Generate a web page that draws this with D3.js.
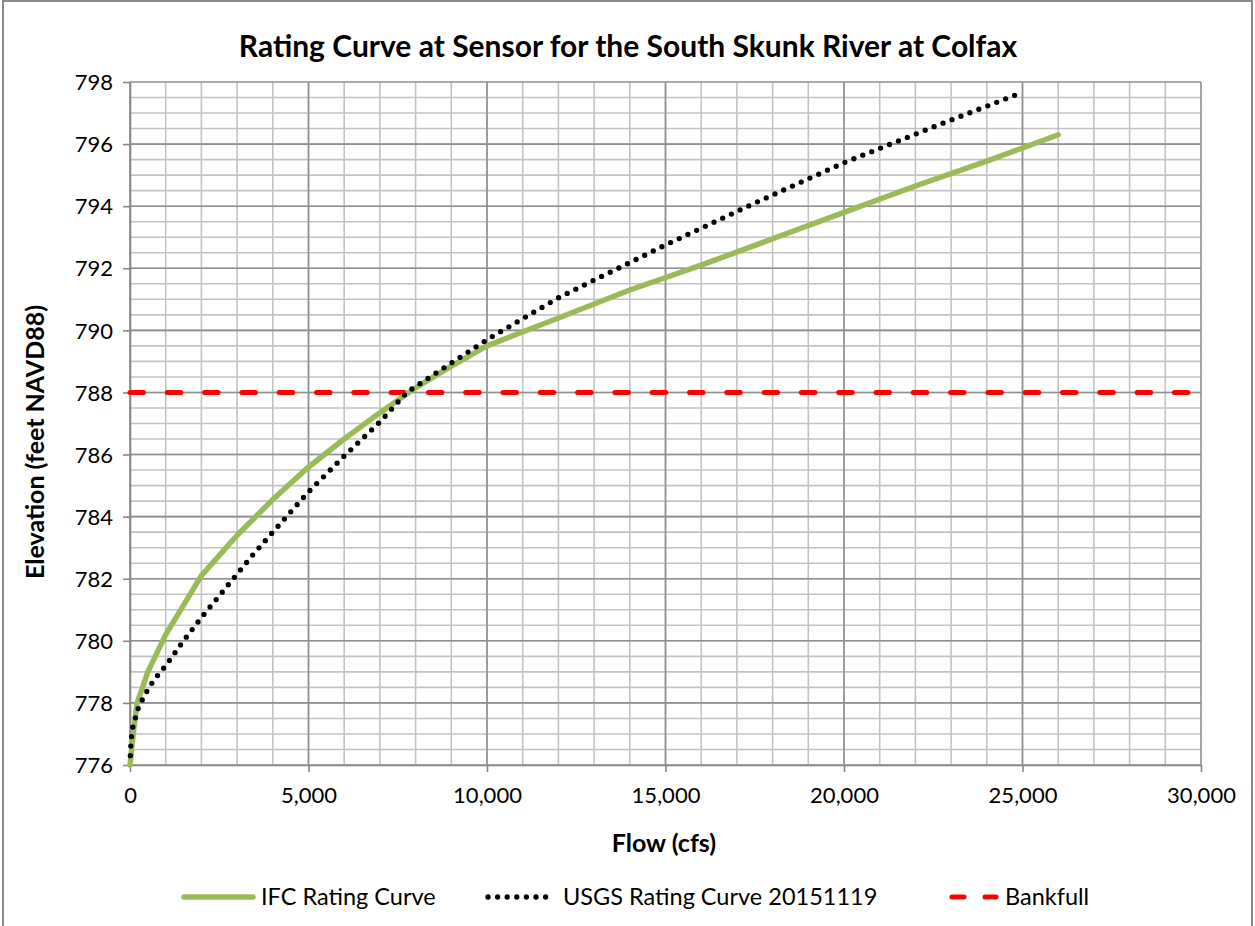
<!DOCTYPE html>
<html>
<head>
<meta charset="utf-8">
<script src="https://cdn.jsdelivr.net/npm/d3@7"></script>
<style>
  body { margin: 0; background: #fff; }
  text { font-family: Lato, "Open Sans", sans-serif; fill: #000; }
</style>
</head>
<body>
<svg id="chart" width="1255" height="926"></svg>
<script>
// IFC rating curve (flow cfs, elevation ft)
var ifcFlow = [0, 100, 200, 500, 1000, 2000, 3000, 4000, 5000, 6000, 7000, 8000, 9000, 10000, 12000, 14000, 16000, 18000, 20000, 22000, 24000, 26000];
var ifcElev = [776.0, 777.1, 778.0, 779.0, 780.2, 782.1, 783.4, 784.55, 785.6, 786.5, 787.35, 788.15, 788.85, 789.5, 790.4, 791.3, 792.1, 792.95, 793.8, 794.65, 795.45, 796.3];

// USGS rating curve 20151119
var usgsFlow = [10, 30, 75, 160, 250, 400, 560, 750, 1000, 1500, 2000, 2500, 3000, 3500, 4000, 4500, 5000, 6000, 7000, 7750, 9000, 10000, 12000, 15000, 17500, 20000, 22500, 25000];
var usgsElev = [776.3, 776.8, 777.2, 777.55, 777.9, 778.22, 778.55, 778.85, 779.2, 780.0, 780.75, 781.45, 782.15, 782.85, 783.5, 784.15, 784.8, 785.95, 787.05, 788.0, 788.95, 789.7, 791.05, 792.75, 794.1, 795.4, 796.55, 797.67];

var bankfull = 788;

var xTicks = [0, 5000, 10000, 15000, 20000, 25000, 30000];
var yTicks = [776, 778, 780, 782, 784, 786, 788, 790, 792, 794, 796, 798];

var title = "Rating Curve at Sensor for the South Skunk River at Colfax";
var seriesNames = ["IFC Rating Curve", "USGS Rating Curve 20151119", "Bankfull"];

var svg = d3.select("#chart");

// outer chart border
svg.append("rect")
    .attr("x", 3).attr("y", 1)
    .attr("width", 1249).attr("height", 930)
    .attr("fill", "none")
    .attr("stroke", "#8a8a8a")
    .attr("stroke-width", 2);

var x = d3.scaleLinear().domain([0, 30000]).range([130, 1201]);
var y = d3.scaleLinear().domain([776, 798]).range([765, 82]);

// minor gridlines
var g = svg.append("g");
g.selectAll("line.vminor")
    .data(d3.range(1000, 30000, 1000))
    .enter().append("line")
    .attr("x1", d => x(d)).attr("x2", d => x(d))
    .attr("y1", y(776)).attr("y2", y(798))
    .attr("stroke", "#c3c3c3").attr("stroke-width", 1.6);
g.selectAll("line.hminor")
    .data(d3.range(776.5, 798, 0.5))
    .enter().append("line")
    .attr("x1", x(0)).attr("x2", x(30000))
    .attr("y1", d => y(d)).attr("y2", d => y(d))
    .attr("stroke", "#c3c3c3").attr("stroke-width", 1.6);

// major gridlines
g.selectAll("line.vmajor")
    .data(xTicks)
    .enter().append("line")
    .attr("x1", d => x(d)).attr("x2", d => x(d))
    .attr("y1", y(776)).attr("y2", y(798))
    .attr("stroke", "#909090").attr("stroke-width", 1.6);
g.selectAll("line.hmajor")
    .data(yTicks)
    .enter().append("line")
    .attr("x1", x(0)).attr("x2", x(30000))
    .attr("y1", d => y(d)).attr("y2", d => y(d))
    .attr("stroke", "#909090").attr("stroke-width", 1.6);

// axes
var xAxis = d3.axisBottom(x).tickValues(xTicks).tickSizeInner(7).tickSizeOuter(0)
    .tickFormat(d3.format(","));
var yAxis = d3.axisLeft(y).tickValues(yTicks).tickSizeInner(7).tickSizeOuter(0)
    .tickFormat(d3.format("d"));

var gx = svg.append("g").attr("transform", "translate(0," + y(776) + ")").call(xAxis);
var gy = svg.append("g").attr("transform", "translate(" + x(0) + ",0)").call(yAxis);
[gx, gy].forEach(function(a) {
    a.select(".domain").attr("stroke", "#868686").attr("stroke-width", 1.6);
    a.selectAll(".tick line").attr("stroke", "#868686").attr("stroke-width", 1.6);
    a.selectAll(".tick text").style("font-size", "22px").attr("fill", "#000");
});
gx.selectAll(".tick text").attr("y", 20).attr("dy", "0.8em");
gy.selectAll(".tick text").attr("x", -17).attr("dy", "0.35em");

// series
var line = d3.line().x(d => x(d[0])).y(d => y(d[1]));

svg.append("path")
    .datum([[0, bankfull], [30000, bankfull]])
    .attr("d", line)
    .attr("fill", "none")
    .attr("stroke", "#ff0000")
    .attr("stroke-width", 5)
    .attr("stroke-linecap", "round")
    .attr("stroke-dasharray", "13.5 23.8");

svg.append("path")
    .datum(d3.zip(ifcFlow, ifcElev))
    .attr("d", line)
    .attr("fill", "none")
    .attr("stroke", "#9bbb59")
    .attr("stroke-width", 5.5)
    .attr("stroke-linejoin", "round")
    .attr("stroke-linecap", "round");

svg.append("path")
    .datum(d3.zip(usgsFlow, usgsElev))
    .attr("d", line)
    .attr("fill", "none")
    .attr("stroke", "#000")
    .attr("stroke-width", 5.3)
    .attr("stroke-linecap", "round")
    .attr("stroke-dasharray", "0 9.6");

// title and axis titles
svg.append("text")
    .attr("x", 628).attr("y", 57)
    .attr("text-anchor", "middle")
    .style("font-size", "30px").style("font-weight", "bold")
    .text(title);

svg.append("text")
    .attr("x", 664).attr("y", 852)
    .attr("text-anchor", "middle")
    .style("font-size", "25px").style("font-weight", "bold")
    .text("Flow (cfs)");

svg.append("text")
    .attr("transform", "translate(44,442) rotate(-90)")
    .attr("text-anchor", "middle")
    .style("font-size", "25px").style("font-weight", "bold")
    .text("Elevation (feet NAVD88)");

// legend
var legend = [
    {name: seriesNames[0], x1: 184, x2: 253, tx: 261, stroke: "#9bbb59", w: 5.5, dash: null},
    {name: seriesNames[1], x1: 488, x2: 551, tx: 563, stroke: "#000", w: 5.3, dash: "0 9.6"},
    {name: seriesNames[2], x1: 952, x2: 996, tx: 1005, stroke: "#ff0000", w: 5, dash: "12 21"}
];
var lg = svg.append("g").selectAll("g").data(legend).enter().append("g");
lg.append("line")
    .attr("x1", d => d.x1).attr("x2", d => d.x2)
    .attr("y1", 897).attr("y2", 897)
    .attr("stroke", d => d.stroke)
    .attr("stroke-width", d => d.w)
    .attr("stroke-linecap", "round")
    .attr("stroke-dasharray", d => d.dash);
lg.append("text")
    .attr("x", d => d.tx).attr("y", 897).attr("dy", "0.35em")
    .style("font-size", "23.5px")
    .text(d => d.name);
</script>
</body>
</html>
